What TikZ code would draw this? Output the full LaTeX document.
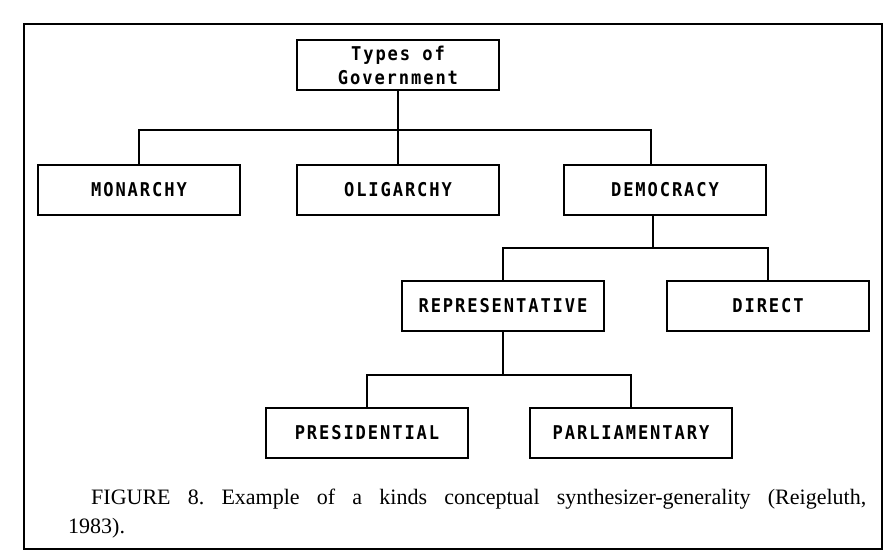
\documentclass[tikz,border=0pt]{standalone}
\usepackage{fontspec}
\setmainfont{Liberation Serif}
\newfontfamily\lblfont[FakeStretch=0.9,LetterSpace=10]{DejaVu Sans Mono Bold}
\begin{document}
\frenchspacing
\begin{tikzpicture}[x=1pt,y=-1pt,
  box/.style={draw, line width=1.6pt, minimum width=202pt, minimum height=50pt,
    inner sep=0pt, align=center, font=\lblfont\fontsize{19}{24}\selectfont},
  conn/.style={line width=1.6pt},
  frame/.style={line width=1.8pt},
  captext/.style={inner sep=0pt, anchor=base west, font=\fontsize{22}{28}\selectfont}]
\useasboundingbox (0,0) rectangle (887,557);
\draw[frame] (24,24) rectangle (882,549);

\node[box] (types) at (398,65) {Types of\\Government};
\node[box] (mon) at (139,190) {MONARCHY};
\node[box] (oli) at (398,190) {OLIGARCHY};
\node[box] (dem) at (665,190) {DEMOCRACY};
\node[box] (rep) at (503,306) {REPRESENTATIVE};
\node[box] (dir) at (768,306) {DIRECT};
\node[box] (pres) at (367,433) {PRESIDENTIAL};
\node[box] (parl) at (631,433) {PARLIAMENTARY};

\coordinate (bar1) at (398,130);
\coordinate (bar2) at (653,248);
\coordinate (bar3) at (503,375);

\draw[conn] (types.south) -- (oli.north);
\draw[conn] (mon.north) |- (bar1) -| ([xshift=-14pt]dem.north);
\draw[conn] ([xshift=-12pt]dem.south) -- (bar2);
\draw[conn] (rep.north) |- (bar2) -| (dir.north);
\draw[conn] (rep.south) -- (bar3);
\draw[conn] (pres.north) |- (bar3) -| (parl.north);

\node[captext] (cap1) at (91,504) {\makebox[775pt][s]{FIGURE 8. Example of a kinds conceptual synthesizer-generality (Reigeluth,}};
\node[captext] (cap2) at (68,533) {1983).};
\end{tikzpicture}
\end{document}
